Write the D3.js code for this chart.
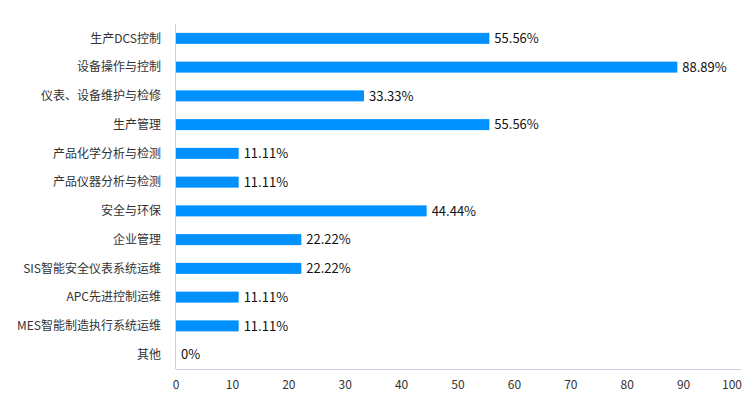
<!DOCTYPE html>
<html>
<head>
<meta charset="utf-8">
<script src="https://cdn.jsdelivr.net/npm/d3@7"></script>
<style>
  body { margin: 0; background: #fff; }
  text { font-family: "Noto Sans CJK SC", "Noto Sans", sans-serif; }
</style>
</head>
<body>
<div id="chart"></div>
<script>
const categories = ["生产DCS控制", "设备操作与控制", "仪表、设备维护与检修", "生产管理",
  "产品化学分析与检测", "产品仪器分析与检测", "安全与环保", "企业管理",
  "SIS智能安全仪表系统运维", "APC先进控制运维", "MES智能制造执行系统运维", "其他"];
const values = [55.56, 88.89, 33.33, 55.56, 11.11, 11.11, 44.44, 22.22, 22.22, 11.11, 11.11, 0];
const xTicks = [0, 10, 20, 30, 40, 50, 60, 70, 80, 90, 100];

const width = 754;
const height = 402;
const margin = {top: 24, right: 14, bottom: 33, left: 176};

var svg = d3.select("#chart").append("svg")
    .attr("width", width)
    .attr("height", height);

const xScale = d3.scaleLinear().domain([0, 100])
    .range([margin.left, width - margin.right]);
const yScale = d3.scaleBand().domain(categories)
    .range([margin.top, height - margin.bottom]);

// axes lines
svg.append("line")
    .attr("x1", xScale(0) - 0.5).attr("x2", xScale(0) - 0.5)
    .attr("y1", margin.top).attr("y2", height - margin.bottom)
    .attr("stroke", "#c9d3e6");
svg.append("line")
    .attr("x1", xScale(0)).attr("x2", xScale(100) + 1)
    .attr("y1", height - margin.bottom + 0.5).attr("y2", height - margin.bottom + 0.5)
    .attr("stroke", "#c9d3e6");

// x tick labels
svg.append("g")
    .selectAll("text")
    .data(xTicks)
    .join("text")
    .attr("x", d => d === 100 ? xScale(d) + 2 : xScale(d))
    .attr("y", height - margin.bottom + 20)
    .attr("text-anchor", d => d === 100 ? "end" : "middle")
    .attr("font-size", 12)
    .attr("fill", "#333")
    .text(d => d);

// category labels
svg.append("g")
    .selectAll("text")
    .data(categories)
    .join("text")
    .attr("x", margin.left - 15)
    .attr("y", d => yScale(d) + yScale.bandwidth() / 2)
    .attr("dy", "0.35em")
    .attr("text-anchor", "end")
    .attr("font-size", 12)
    .attr("fill", "#333")
    .text(d => d);

const barH = 11;

svg.append("g")
    .selectAll("rect")
    .data(values)
    .join("rect")
    .attr("x", xScale(0))
    .attr("y", (d, i) => yScale(categories[i]) + yScale.bandwidth() / 2 - barH / 2)
    .attr("width", d => xScale(d) - xScale(0))
    .attr("height", barH)
    .attr("fill", "#0091ff");

svg.append("g")
    .selectAll("text")
    .data(values)
    .join("text")
    .attr("x", d => xScale(d) + 5)
    .attr("y", (d, i) => yScale(categories[i]) + yScale.bandwidth() / 2)
    .attr("dy", "0.36em")
    .attr("font-size", 13)
    .attr("fill", "#111")
    .text(d => (d === 0 ? "0" : d.toFixed(2)) + "%");
</script>
</body>
</html>
